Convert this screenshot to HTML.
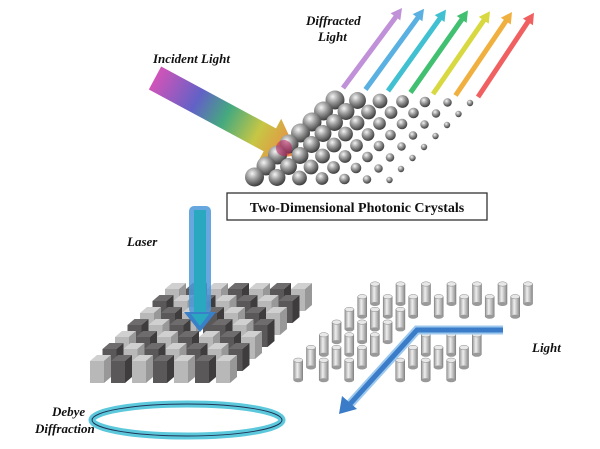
<!DOCTYPE html>
<html><head><meta charset="utf-8"><style>
html,body{margin:0;padding:0;background:#fff;}
svg{display:block}
.t{font-family:"Liberation Serif",serif;font-weight:bold;font-style:italic;font-size:13px;fill:#111}
</style></head><body>
<svg id="s" width="600" height="449" viewBox="0 0 600 449" xmlns="http://www.w3.org/2000/svg">
<defs>
<radialGradient id="sph" cx="0.38" cy="0.32" r="0.7">
<stop offset="0" stop-color="#f4f4f4"/><stop offset="0.45" stop-color="#9a9a9a"/><stop offset="1" stop-color="#3a3a3a"/></radialGradient>
<linearGradient id="inc" gradientUnits="userSpaceOnUse" x1="155" y1="75" x2="298" y2="155">
<stop offset="0" stop-color="#d040b0"/><stop offset="0.3" stop-color="#5050c0"/><stop offset="0.5" stop-color="#30a070"/><stop offset="0.72" stop-color="#c0c030"/><stop offset="1" stop-color="#f07030"/></linearGradient>
<linearGradient id="cyl" x1="0" y1="0" x2="1" y2="0">
<stop offset="0" stop-color="#9a9a9a"/><stop offset="0.4" stop-color="#eeeeee"/><stop offset="1" stop-color="#8a8a8a"/></linearGradient>
</defs>
<g id="topg"></g>
<rect x="227" y="193" width="260" height="27" fill="#fff" stroke="#333" stroke-width="1.3"/>
<text x="357" y="212" text-anchor="middle" font-family="Liberation Serif,serif" font-weight="bold" font-size="14" fill="#111">Two-Dimensional Photonic Crystals</text>
<text class="t" x="153" y="63">Incident Light</text>
<text class="t" x="306" y="25">Diffracted</text>
<text class="t" x="318" y="41">Light</text>
<text class="t" x="127" y="246">Laser</text>
<text class="t" x="532" y="352">Light</text>
<text class="t" x="52" y="416">Debye</text>
<text class="t" x="35" y="433">Diffraction</text>
<g id="cubes"></g>
<g id="cyls"></g>
<ellipse cx="187" cy="420" rx="95" ry="16" fill="none" stroke="#5cc8dc" stroke-width="7"/>
<ellipse cx="187" cy="420" rx="95" ry="16" fill="none" stroke="#235" stroke-width="1"/>
</svg>
<script>
(function(){
var NS="http://www.w3.org/2000/svg";
function el(p,t,a){var e=document.createElementNS(NS,t);for(var k in a)e.setAttribute(k,a[k]);p.appendChild(e);return e;}
var tg=document.getElementById('topg');
var cols=["#c090d8","#5ab0e0","#40c0d0","#40c070","#d8d840","#f0b040","#f06060"];
for(var i=0;i<7;i++){
 var x0=343+i*22.5,y0=88+i*1.5,x1=402+i*22,y1=8+i*0.8;
 el(tg,'line',{x1:x0,y1:y0,x2:x1-4,y2:y1+6,stroke:cols[i],'stroke-width':5});
 var dx=x1-x0,dy=y1-y0,L=Math.hypot(dx,dy),ux=dx/L,uy=dy/L;
 var bx=x1-ux*11,by=y1-uy*11;
 el(tg,'polygon',{points:x1+','+y1+' '+(bx-uy*6)+','+(by+ux*6)+' '+(bx+uy*6)+','+(by-ux*6),fill:cols[i]});
}
(function(){
 var x0=155,y0=78,x1=298,y1=155,dx=x1-x0,dy=y1-y0,L=Math.hypot(dx,dy),ux=dx/L,uy=dy/L,nx=-uy,ny=ux;
 var w=13,hw=24,hl=32,bx=x1-ux*hl,by=y1-uy*hl;
 var p=[[x0+nx*w,y0+ny*w],[bx+nx*w,by+ny*w],[bx+nx*hw,by+ny*hw],[x1,y1],[bx-nx*hw,by-ny*hw],[bx-nx*w,by-ny*w],[x0-nx*w,y0-ny*w]];
 el(tg,'polygon',{points:p.map(function(q){return q.join(',')}).join(' '),fill:'url(#inc)',opacity:0.9});
})();
for(var r=0;r<8;r++){for(var c=0;c<7;c++){
 var x=335-r*11.5+c*22.5, y=100+r*11+c*0.5, rad=9.5-c*1.05;
 el(tg,'circle',{cx:x,cy:y,r:rad,fill:'url(#sph)'});
}}
el(tg,'circle',{cx:284,cy:148,r:8,fill:'#c02060',opacity:0.55});
var cg=document.getElementById('cubes');
for(var r=0;r<7;r++){for(var c=0;c<7;c++){
 var x=165-r*12.5+c*21, y=283+r*12;
 if(r==3&&c==3)continue;
 var dark=(r+c)%2==1;
 var f=dark?'#5a5858':'#b8b8b8', s=dark?'#3e3c3c':'#989898', t=dark?'#6e6c6c':'#d0d0d0';
 var w=14,d=7,h=22,tt=6;
 el(cg,'polygon',{points:x+','+(y+tt)+' '+(x+w)+','+(y+tt)+' '+(x+w)+','+(y+tt+h)+' '+x+','+(y+tt+h),fill:f});
 el(cg,'polygon',{points:(x+w)+','+(y+tt)+' '+(x+w+d)+','+y+' '+(x+w+d)+','+(y+h)+' '+(x+w)+','+(y+tt+h),fill:s});
 el(cg,'polygon',{points:x+','+(y+tt)+' '+(x+d)+','+y+' '+(x+w+d)+','+y+' '+(x+w)+','+(y+tt),fill:t});
}}
el(cg,'rect',{x:189,y:206,width:22,height:108,rx:5,fill:'#4a98d8',opacity:0.85});
el(cg,'rect',{x:194,y:210,width:12,height:104,fill:'#2aa8c0'});
el(cg,'polygon',{points:'184,312 216,312 200,332',fill:'#3a80c8'});
el(cg,'polygon',{points:'191,314 209,314 200,326',fill:'#2aa8c0'});
var yg=document.getElementById('cyls');
function segd(px,py,ax,ay,bx,by){var dx=bx-ax,dy=by-ay,t=((px-ax)*dx+(py-ay)*dy)/(dx*dx+dy*dy);t=Math.max(0,Math.min(1,t));return Math.hypot(px-ax-t*dx,py-ay-t*dy);}
for(var r=0;r<7;r++){for(var c=0;c<7;c++){
 var cx=375-r*12.8+c*25.5, ty=284+r*12.7;
 var my=ty+12;
 if(segd(cx,my,417,330,503,330)<9||segd(cx,my,417,330,345,410)<10)continue;
 el(yg,'rect',{x:cx-4.5,y:ty,width:9,height:20,fill:'url(#cyl)',stroke:'#777','stroke-width':0.5});
 el(yg,'ellipse',{cx:cx,cy:ty+20,rx:4.5,ry:2,fill:'#999'});
 el(yg,'ellipse',{cx:cx,cy:ty,rx:4.5,ry:2.2,fill:'#e8e8e8',stroke:'#888','stroke-width':0.5});
}}
el(yg,'polyline',{points:'503,330 417,330 350,404',fill:'none',stroke:'#9cc8ee','stroke-width':9,'stroke-linejoin':'miter'});
el(yg,'polyline',{points:'503,330 417,330 350,404',fill:'none',stroke:'#3a7cc8','stroke-width':5,'stroke-linejoin':'miter'});
el(yg,'polygon',{points:'339,414 342,396 357,409',fill:'#3a7cc8'});
})();
</script>
</body></html>
